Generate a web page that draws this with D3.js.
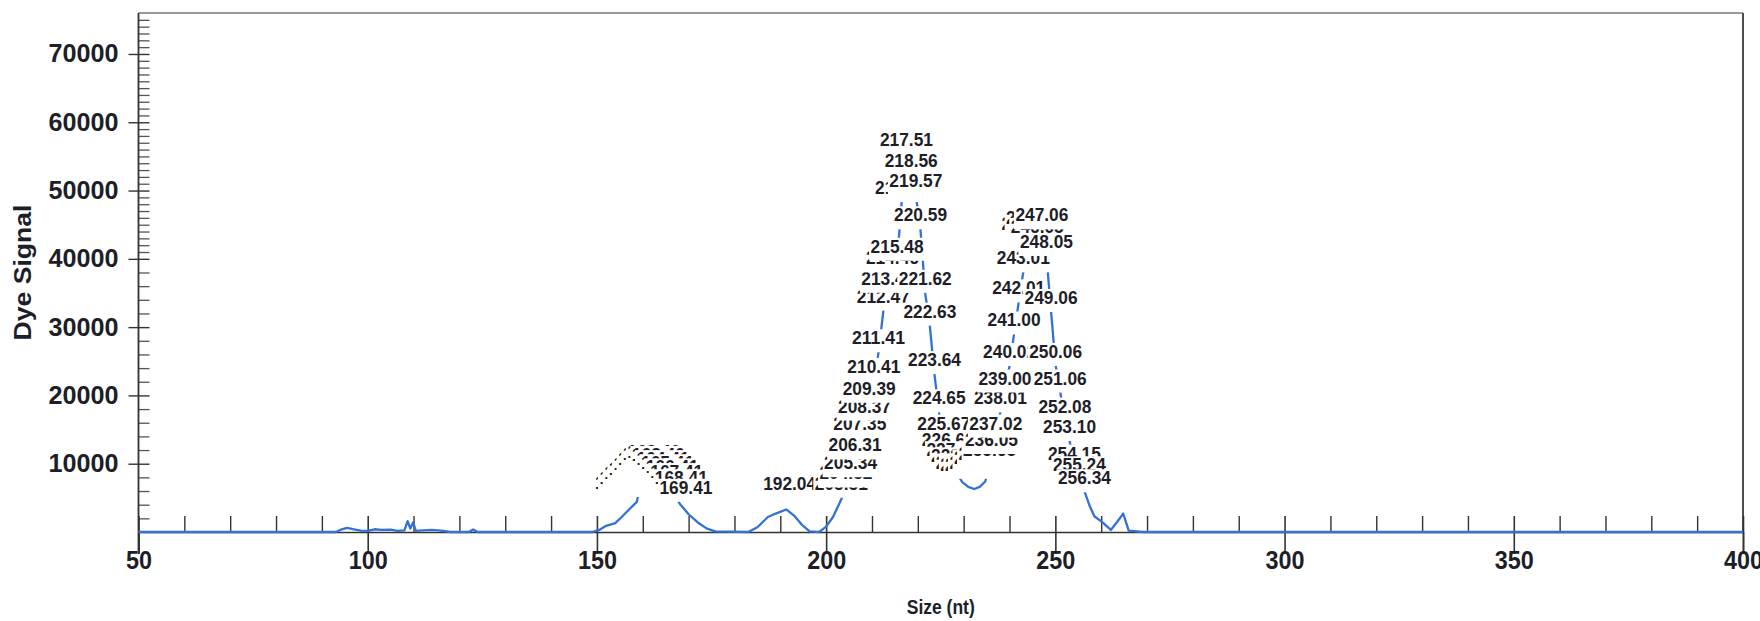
<!DOCTYPE html>
<html><head><meta charset="utf-8">
<script src="https://cdn.jsdelivr.net/npm/d3@7"></script>
<style>body{margin:0;background:#fff}svg{display:block}</style>
</head><body>
<script>
// ---- data ----
const xMajorTicks = [50,100,150,200,250,300,350,400];
const yMajorTicks = [10000,20000,30000,40000,50000,60000,70000];
const xTitle = "Size (nt)";
const yTitle = "Dye Signal";

const traceSizes = [50,93,94,95.5,97,98.5,100,101.5,103,105,106.5,108,108.7,109.3,109.9,110.5,112,114,116,118,122,123,124,149,150.5,152,154,155.4,157,158.7,159.5,161,163,166,168.1,170,172,174,175.8,183,185,187.3,189,191.3,193,194.8,196.4,198.5,200,201.5,203.31,204.32,205.34,206.31,207.35,208.37,209.39,210.41,211.41,212.47,213.45,214.46,215.48,216.46,217.51,218.56,219.57,220.59,221.62,222.63,223.64,224.65,225.67,226.66,227.66,228.67,229.7,231,232.3,233.5,234.7,235.65,236.05,237.02,238.01,239.00,240.02,241.00,242.01,243.01,244.02,245.04,246.05,247.06,248.05,249.06,250.06,251.06,252.08,253.10,254.15,255.2,256.34,257.5,258.5,260.3,262.1,263.5,264.8,266,269,400];
const traceSignals = [0,0,300,600,400,200,150,400,300,350,150,250,1600,500,1400,150,250,300,200,0,0,350,0,0,300,900,1300,2200,3300,4400,7000,9000,8800,6500,4100,2600,1400,500,100,0,700,2200,2700,3300,2400,1000,100,0,800,2200,4800,6500,8000,10600,13800,16300,18900,22000,26200,32300,34900,37600,39800,48200,55200,52100,49300,44200,34900,30100,23000,17400,13700,11300,9800,8400,7300,6600,6300,6600,7400,9600,11300,13900,17600,20500,24400,29000,33700,38100,41000,43000,43800,44400,40500,32300,24400,20500,16400,13400,9500,7800,6000,3800,2300,1400,300,1500,2700,200,0,0];

const peakSizes = [155.34,156.35,157.36,158.37,159.38,160.38,161.39,162.40,163.40,164.41,165.41,166.41,167.41,168.41,169.41,
  192.04,203.31,204.32,205.34,206.31,207.35,208.37,209.39,210.41,211.41,212.47,213.45,214.46,215.48,216.46,217.51,218.56,219.57,220.59,221.62,222.63,223.64,224.65,225.67,226.66,
  227.66,228.67,229.68,230.69,231.69,232.68,233.66,234.66,235.65,
  236.05,237.02,238.01,239.00,240.02,241.00,242.01,243.01,244.02,245.04,246.05,247.06,248.05,249.06,250.06,251.06,252.08,253.10,254.15,255.24,256.34];
const peakSignals = [6000,6700,7400,8100,8800,9500,10200,10600,10100,9500,8900,8300,7600,6700,5300,
  5900,5900,7400,8900,11500,14700,17200,19800,23000,27200,33300,35900,38900,40600,49200,56200,53100,50300,45200,35900,31100,24000,18400,14700,12300,
  10800,9900,9000,8700,8700,9000,9600,10200,10900,
  12300,14700,18400,21300,25200,29800,34500,38900,44000,44800,43500,45200,41300,33100,25200,21300,17200,14200,10300,8600,6700];

// ---- layout ----
const W = 1760, H = 621;
const x = d3.scaleLinear().domain([50,400]).range([138.5,1743]);
const y = d3.scaleLinear().domain([0,76000]).range([532,13]);
const font = "'Liberation Sans', Arial, Helvetica, sans-serif";
const ink = "#1e1e28";

const svg = d3.select("body").append("svg").attr("width",W).attr("height",H);

// frame (top / right)
svg.append("line").attr("x1",x(50)).attr("x2",x(400)).attr("y1",y(76000)).attr("y2",y(76000))
  .attr("stroke","#777").attr("stroke-width",1.6);
svg.append("line").attr("x1",x(400)).attr("x2",x(400)).attr("y1",y(76000)).attr("y2",y(0))
  .attr("stroke","#3a3a3a").attr("stroke-width",1.8);

// y minor ticks (inside)
const yMinor = d3.range(1000,76000,1000).filter(v => v%10000!==0 && (v>=40000 || v%2000===0));
const gyMinor = svg.append("g").attr("transform",`translate(${x(50)},0)`)
  .call(d3.axisRight(y).tickValues(yMinor).tickSize(11).tickFormat(""));
gyMinor.select(".domain").remove();
gyMinor.selectAll("line").attr("stroke","#555").attr("stroke-width",1.3);

// y major axis
const gy = svg.append("g").attr("transform",`translate(${x(50)},0)`)
  .call(d3.axisLeft(y).tickValues(yMajorTicks).tickSize(10).tickPadding(10).tickFormat(d3.format("d")));
gy.select(".domain").remove();
gy.selectAll("line").attr("stroke","#333").attr("stroke-width",1.4).attr("x2",-10).attr("x1",11);
gy.selectAll("text").attr("font-family",font).attr("font-size",25).attr("font-weight","bold").attr("fill",ink)
  .attr("textLength",70).attr("lengthAdjust","spacingAndGlyphs");

// left axis line
svg.append("line").attr("x1",x(50)).attr("x2",x(50)).attr("y1",y(76000)).attr("y2",y(0)+22)
  .attr("stroke","#333").attr("stroke-width",1.8);

// x minor ticks (upward)
const xMinor = d3.range(60,400,10).filter(v => v%50!==0);
const gxMinor = svg.append("g").attr("transform",`translate(0,${y(0)})`)
  .call(d3.axisTop(x).tickValues(xMinor).tickSize(16).tickFormat(""));
gxMinor.select(".domain").remove();
gxMinor.selectAll("line").attr("stroke","#333").attr("stroke-width",1.4);

// x major axis
const gx = svg.append("g").attr("transform",`translate(0,${y(0)})`)
  .call(d3.axisBottom(x).tickValues(xMajorTicks).tickSize(22).tickFormat(d3.format("d")));
gx.select(".domain").attr("stroke","#333").attr("stroke-width",1.6);
gx.selectAll("line").attr("stroke","#333").attr("stroke-width",1.6).attr("y1",-16);
gx.selectAll("text").attr("font-family",font).attr("font-size",26).attr("font-weight","bold").attr("fill",ink)
  .attr("y",37).attr("dy",0)
  .attr("textLength",d => String(d).length*13).attr("lengthAdjust","spacingAndGlyphs");

// trace
const line = d3.line().x((d,i)=>x(traceSizes[i])).y((d,i)=>y(traceSignals[i]));
svg.append("path").datum(traceSizes).attr("d",line)
  .attr("fill","none").attr("stroke","#3372d4").attr("stroke-width",2.3).attr("stroke-linejoin","round");

// peak labels (drawn in ascending size, white boxes)
const fmt = d3.format(".2f");
const gl = svg.append("g");
peakSizes.forEach((s,i) => {
  const cx = x(s), by = y(peakSignals[i]) - 2;
  const g = gl.append("g").attr("transform",`translate(${cx},${by})`);
  g.append("rect").attr("x",-28).attr("y",-15).attr("width",56).attr("height",23).attr("fill","#fff");
  g.append("text").attr("text-anchor","middle").attr("font-family",font).attr("font-size",18)
    .attr("font-weight","bold").attr("fill",ink)
    .attr("textLength",53).attr("lengthAdjust","spacingAndGlyphs").text(fmt(s));
});

// titles
svg.append("text").attr("x",(x(50)+x(400))/2).attr("y",614).attr("text-anchor","middle")
  .attr("font-family",font).attr("font-size",21).attr("font-weight","bold").attr("fill",ink)
  .attr("textLength",68).attr("lengthAdjust","spacingAndGlyphs").text(xTitle);
svg.append("text").attr("transform",`translate(31,${(y(0)+y(76000))/2}) rotate(-90)`)
  .attr("text-anchor","middle").attr("font-family",font).attr("font-size",24).attr("font-weight","bold").attr("fill",ink)
  .attr("textLength",136).attr("lengthAdjust","spacingAndGlyphs").text(yTitle);
</script>
</body></html>
